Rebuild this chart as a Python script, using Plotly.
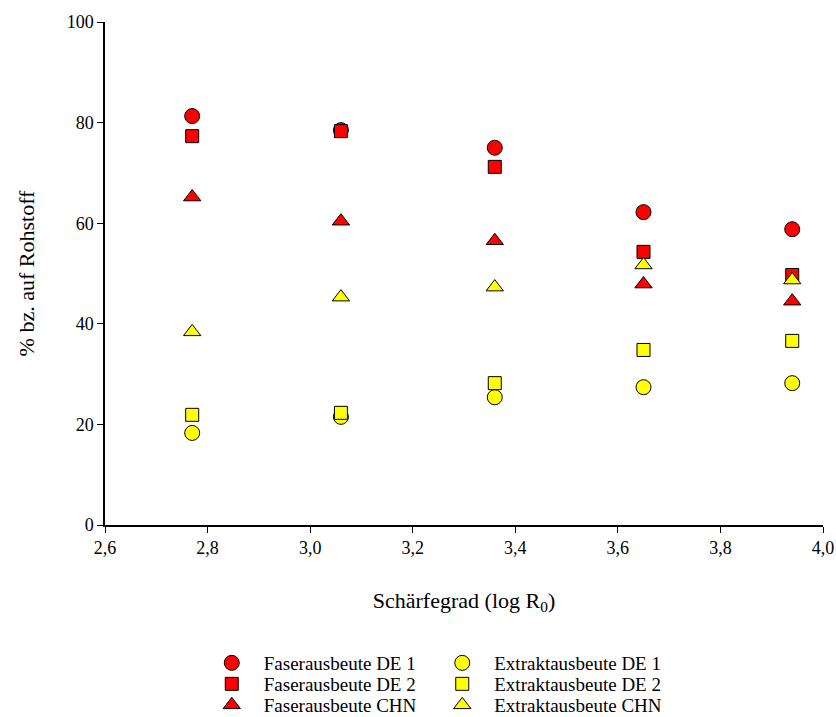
import plotly.graph_objects as go

# Schärfegrad (log R0) of the five pretreatment runs
schaerfegrad = [2.77, 3.06, 3.36, 3.65, 3.94]

# Yields in % relative to raw material
faser_de1 = [81.3, 78.5, 75.0, 62.2, 58.8]
faser_de2 = [77.3, 78.3, 71.2, 54.3, 49.7]
faser_chn = [65.2, 60.4, 56.5, 47.9, 44.5]
extrakt_de1 = [18.3, 21.5, 25.4, 27.4, 28.2]
extrakt_de2 = [21.9, 22.3, 28.2, 34.8, 36.6]
extrakt_chn = [38.4, 45.3, 47.3, 51.7, 48.7]

x_ticks = [2.6, 2.8, 3.0, 3.2, 3.4, 3.6, 3.8, 4.0]
x_tick_labels = ["2,6", "2,8", "3,0", "3,2", "3,4", "3,6", "3,8", "4,0"]
y_ticks = [0, 20, 40, 60, 80, 100]

FONT = "Liberation Serif"
RED = "#ff0000"
YELLOW = "#ffff00"

series = [
    ("Faserausbeute DE 1", faser_de1, "circle", RED),
    ("Faserausbeute DE 2", faser_de2, "square", RED),
    ("Faserausbeute CHN", faser_chn, "triangle-up", RED),
    ("Extraktausbeute DE 1", extrakt_de1, "circle", YELLOW),
    ("Extraktausbeute DE 2", extrakt_de2, "square", YELLOW),
    ("Extraktausbeute CHN", extrakt_chn, "triangle-up", YELLOW),
]
sizes = {"circle": 15, "square": 13, "triangle-up": 15}

# Each legend entry gets its own legend box so the two columns of
# three rows can be spaced tightly below the axes.
col_x = [0.132, 0.453]
row_y = [663, 684, 705]  # row centres in pixels from the top

fig = go.Figure()
legend_layout = {}
for i, (name, vals, sym, col) in enumerate(series):
    key = "legend" if i == 0 else f"legend{i + 1}"
    fig.add_trace(go.Scatter(
        x=schaerfegrad, y=vals, mode="markers", name=name, legend=key,
        marker=dict(symbol=sym, size=sizes[sym], color=col,
                    line=dict(color="black", width=1)),
    ))
    legend_layout[key] = dict(
        orientation="v", xanchor="left", yanchor="middle",
        x=col_x[i // 3], yref="container", y=1 - row_y[i % 3] / 717,
        font=dict(family=FONT, size=19, color="black"),
        bgcolor="rgba(0,0,0,0)", itemwidth=54,
        itemclick=False, itemdoubleclick=False,
    )

fig.update_layout(
    width=836, height=717,
    margin=dict(l=105, r=13, t=22, b=192, autoexpand=False),
    paper_bgcolor="white", plot_bgcolor="white",
    font=dict(family=FONT, size=18, color="black"),
    showlegend=True,
    xaxis=dict(
        range=[2.6, 4.0], tickvals=x_ticks, ticktext=x_tick_labels,
        showgrid=False, zeroline=False, showline=True, linecolor="black",
        linewidth=1.5, ticks="outside", ticklen=6, tickcolor="black",
        tickfont=dict(family=FONT, size=18),
        title=dict(text="Schärfegrad (log R<sub>0</sub>)", standoff=35,
                   font=dict(family=FONT, size=22)),
    ),
    yaxis=dict(
        range=[0, 100], tickvals=y_ticks,
        showgrid=False, zeroline=False, showline=True, linecolor="black",
        linewidth=1.5, ticks="outside", ticklen=6, tickcolor="black",
        tickfont=dict(family=FONT, size=18),
        title=dict(text="% bz. auf Rohstoff", standoff=26,
                   font=dict(family=FONT, size=22)),
    ),
    **legend_layout,
)

fig.write_html("out.html")
